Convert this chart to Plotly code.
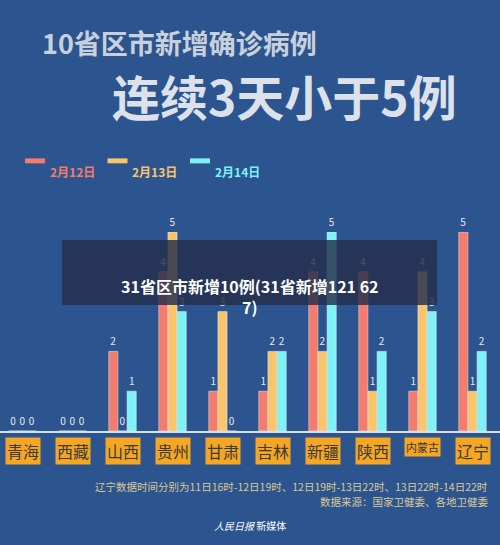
import plotly.graph_objects as go

provinces = ["青海", "西藏", "山西", "贵州", "甘肃", "吉林", "新疆", "陕西", "内蒙古", "辽宁"]
feb12 = [0, 0, 2, 4, 1, 1, 4, 4, 1, 5]
feb13 = [0, 0, 0, 5, 3, 2, 2, 1, 4, 1]
feb14 = [0, 0, 1, 3, 0, 2, 5, 2, 3, 2]
series_names = ["2月12日", "2月13日", "2月14日"]
colors = ["#f47c6c", "#f9c46b", "#7ff2f6"]

FONT = "Noto Sans CJK SC"
fig = go.Figure()
for name, vals, col in zip(series_names, [feb12, feb13, feb14], colors):
    fig.add_trace(go.Bar(
        x=provinces, y=vals, name=name, marker_color=col,
        text=vals, textposition="outside", cliponaxis=False,
        textfont=dict(color="#e8e8e8", size=10, family=FONT),
    ))

fig.update_layout(
    width=500, height=545,
    paper_bgcolor="#2c5590", plot_bgcolor="#2c5590",
    margin=dict(l=0, r=0, t=232, b=114),
    barmode="group", bargap=0.45, bargroupgap=0,
    showlegend=False,
    font=dict(family=FONT),
    xaxis=dict(showticklabels=False, showgrid=False, showline=True,
               linecolor="#d8e0ee", linewidth=2, range=[-0.45, 9.55]),
    yaxis=dict(range=[0, 5], showticklabels=False, showgrid=False, zeroline=False),
)

# title
fig.add_annotation(text="<b>10省区市新增确诊病例</b>", x=0.08, y=2.06, xref="paper", yref="paper",
                   showarrow=False, xanchor="left", font=dict(size=27, color="#c8d0dc", family=FONT))
fig.add_annotation(text="<b>连续3天小于5例</b>", x=0.22, y=1.875, xref="paper", yref="paper",
                   showarrow=False, xanchor="left", font=dict(size=48, color="#dde2ea", family=FONT))

# legend
lx = [0.05, 0.215, 0.38]
for name, col, x0 in zip(series_names, colors, lx):
    fig.add_shape(type="rect", xref="paper", yref="paper", x0=x0, x1=x0 + 0.04,
                  y0=1.345, y1=1.37, line=dict(width=0), fillcolor=col)
    fig.add_annotation(text="<b>" + name + "</b>", x=x0 + 0.045, y=1.357, xref="paper", yref="paper",
                       showarrow=False, xanchor="left", font=dict(size=12, color=col, family=FONT))

# category label boxes
for p in provinces:
    fig.add_annotation(text=p, x=p, y=-0.03, xref="x", yref="paper", yanchor="top",
                       showarrow=False, bgcolor="#f5a623", borderpad=1,
                       font=dict(size=11 if len(p) > 2 else 16, color="#3a3a3a", family=FONT))

# footnotes
fig.add_annotation(text="辽宁数据时间分别为11日16时-12日19时、12日19时-13日22时、13日22时-14日22时",
                   x=0.98, y=-0.325, xref="paper", yref="paper", showarrow=False, xanchor="right",
                   font=dict(size=10.5, color="#dcc890", family=FONT))
fig.add_annotation(text="数据来源：国家卫健委、各地卫健委",
                   x=0.98, y=-0.402, xref="paper", yref="paper", showarrow=False, xanchor="right",
                   font=dict(size=10.5, color="#dcc890", family=FONT))
fig.add_annotation(text="<i>人民日报</i> 新媒体", x=0.5, y=-0.522, xref="paper", yref="paper",
                   showarrow=False, font=dict(size=10, color="#ffffff", family=FONT))

# overlay banner
fig.add_shape(type="rect", xref="paper", yref="paper", x0=0.124, x1=0.874, y0=0.633, y1=0.96,
              fillcolor="rgba(35,45,75,0.82)", line=dict(width=0))
fig.add_annotation(text="<b>31省区市新增10例(31省新增121 62<br>7)</b>", x=0.5, y=0.8,
                   xref="paper", yref="paper", showarrow=False,
                   font=dict(size=16, color="#ffffff", family=FONT))

fig.write_html("out.html", config={"displayModeBar": False},
               post_script="document.body.style.margin='0';")
